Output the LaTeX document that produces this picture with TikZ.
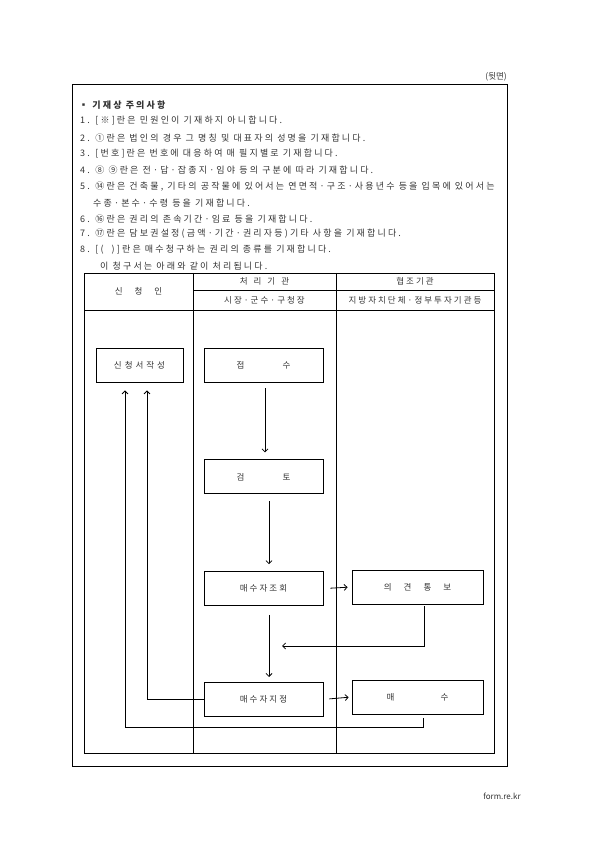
\documentclass[tikz,border=0pt]{standalone}
\usepackage{fontspec}
\setmainfont{Noto Sans CJK KR}[LetterSpace=24]
\newfontfamily\plainfont{Noto Sans CJK KR}
\usepackage{tikz}
\usetikzlibrary{calc, positioning, arrows.meta}
\definecolor{inkgray}{HTML}{333333}

\begin{document}
\begin{tikzpicture}[
    x=1pt, y=1pt,
    note/.style={anchor=west, inner sep=0pt, font=\fontsize{9}{10}\selectfont, text=inkgray},
    head/.style={inner sep=0pt, font=\fontsize{8.5}{10}\selectfont, text=inkgray},
    flowbox/.style={rectangle, draw, line width=0.8pt, minimum width=119pt, minimum height=34pt, inner sep=0pt, font=\fontsize{8.5}{10}\selectfont, text=inkgray},
    sidebox/.style={flowbox, minimum width=131pt},
    startbox/.style={flowbox, minimum width=87pt},
    arrow/.style={-{Straight Barb[length=3pt,width=6pt]}, line width=0.8pt}
]
    \useasboundingbox (0,0) rectangle (595,842);

    % page frame
    \node[anchor=east, head, font=\plainfont\fontsize{8.5}{10}\selectfont] (side) at (507,765) {(뒷면)};
    \draw[line width=0.9pt] (72,758) rectangle (507,76);

    % notes
    \node[note, font=\fontsize{9}{10}\selectfont\bfseries] (title) at (79,737) {▪ 기재상 주의사항};
    \node[note] (n1) at (80,721) {1. [※]란은 민원인이 기재하지 아니합니다.};
    \node[note] (n2) at (80,704) {2. ①란은 법인의 경우 그 명칭 및 대표자의 성명을 기재합니다.};
    \node[note] (n3) at (80,688) {3. [번호]란은 번호에 대응하여 매 필지별로 기재합니다.};
    \node[note] (n4) at (80,672) {4. ⑧ ⑨란은 전·답·잡종지·임야 등의 구분에 따라 기재합니다.};
    \node[note] (n5) at (80,655) {5. ⑭란은 건축물, 기타의 공작물에 있어서는 연면적·구조·사용년수 등을 입목에 있어서는};
    \node[note] (n5b) at (93,639) {수종·본수·수령 등을 기재합니다.};
    \node[note] (n6) at (80,623) {6. ⑯란은 권리의 존속기간·임료 등을 기재합니다.};
    \node[note] (n7) at (80,608) {7. ⑰란은 담보권설정(금액·기간·권리자등)기타 사항을 기재합니다.};
    \node[note] (n8) at (80,592) {8. [(\hspace{8pt})]란은 매수청구하는 권리의 종류를 기재합니다.};
    \node[note] (n9) at (100,576) {이 청구서는 아래와 같이 처리됩니다.};

    % table grid
    \draw[line width=0.8pt] (84,569) rectangle (494,89);
    \draw[line width=0.8pt] (193,569) -- (193,89);
    \draw[line width=0.8pt] (336,569) -- (336,89);
    \draw[line width=0.8pt] (193,552) -- (494,552);
    \draw[line width=0.8pt] (84,532) -- (494,532);

    % table heads
    \node[head] (applicant) at (138.5,551) {신\hspace{12pt}청\hspace{12pt}인};
    \node[head] (agency) at (264.5,561) {처\hspace{6pt}리\hspace{6pt}기\hspace{6pt}관};
    \node[head] (mayor) at (264.5,542) {시장·군수·구청장};
    \node[head] (coop) at (415,561) {협조기관};
    \node[head] (local) at (415,542) {지방자치단체·정부투자기관등};

    % flow boxes
    \node[startbox] (write) at (139.5,477) {신\hspace{3pt}청\hspace{3pt}서\hspace{3pt}작\hspace{3pt}성};
    \node[flowbox] (receive) at (263.5,477) {접\hspace{38pt}수};
    \node[flowbox, below=77pt of receive] (review) {검\hspace{38pt}토};
    \node[flowbox, below=77pt of review] (inquiry) {매수자조회};
    \node[flowbox, below=76pt of inquiry] (assign) {매수자지정};
    \node[sidebox] (opinion) at (417.5,255) {의\hspace{12pt}견\hspace{12pt}통\hspace{12pt}보};
    \node[sidebox] (buy) at (417.5,145) {매\hspace{46pt}수};

    % return point
    \coordinate (back) at (282,196);

    % connections
    \draw[arrow, shorten <=6pt, shorten >=7pt] ([xshift=1.5pt]receive.south) -- ([xshift=1.5pt]review.north);
    \draw[arrow, shorten <=7pt, shorten >=7pt] ([xshift=5.5pt]review.south) -- ([xshift=5.5pt]inquiry.north);
    \draw[arrow, shorten <=9pt, shorten >=5pt] ([xshift=5.5pt]inquiry.south) -- ([xshift=5.5pt]assign.north);
    \draw[arrow, shorten <=7pt, shorten >=4pt] (inquiry.east) -- (opinion.west);
    \draw[arrow] ([xshift=6.5pt,yshift=-2pt]opinion.south) |- (back);
    \draw[arrow, shorten <=6pt, shorten >=3pt] (assign.east) -- (buy.west);
    \draw[arrow] (assign.west) -| ([xshift=7.5pt,yshift=-8pt]write.south);
    \draw[arrow] ([xshift=5.5pt,yshift=-4pt]buy.south) -- ++(0,-9) -| ([xshift=-14.5pt,yshift=-8pt]write.south);

    % footer
    \node[head, font=\plainfont\fontsize{8}{10}\selectfont] (site) at (502,46) {form.re.kr};
\end{tikzpicture}
\end{document}
